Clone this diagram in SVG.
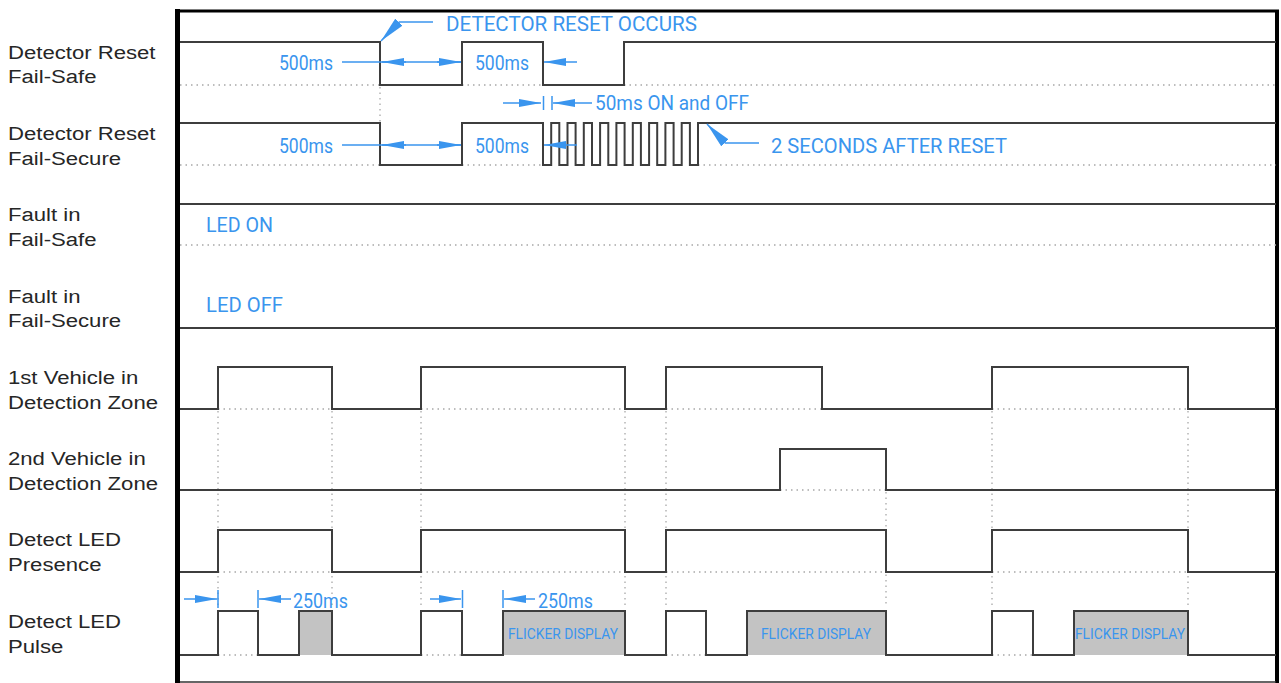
<svg xmlns="http://www.w3.org/2000/svg" width="1281" height="683" viewBox="0 0 1281 683">
<style>
.sig{fill:none;stroke:#3d3d3d;stroke-width:2;stroke-linejoin:miter}
.dot{fill:none;stroke:#a8a8a8;stroke-width:1.3;stroke-dasharray:1.5 4}
.lbl{font-family:"Liberation Sans",Arial,sans-serif;font-size:19px;fill:#262626}
.bt{font-family:Roboto,"Liberation Sans",sans-serif;font-size:20px;fill:#3a95ee}
.fl{font-family:Roboto,"Liberation Sans",sans-serif;font-size:14px;fill:#3a95ee}
.box{fill:#c3c3c3;stroke:none}
.ann{fill:none;stroke:#3a95ee;stroke-width:1.5}
.annh{fill:none;stroke:#3a95ee;stroke-width:1.5;marker-end:url(#ah)}
.lead{fill:none;stroke:#3a95ee;stroke-width:1.5;marker-end:url(#ahL)}
</style>
<defs>
<marker id="ah" viewBox="0 0 22 8" refX="22" refY="4" markerWidth="22" markerHeight="8" markerUnits="userSpaceOnUse" orient="auto">
<path d="M0,0 L22,4 L0,8 Z" fill="#3a95ee"/>
</marker>
<marker id="ahL" viewBox="0 0 26 10" refX="26" refY="5" markerWidth="26" markerHeight="10" markerUnits="userSpaceOnUse" orient="auto">
<path d="M0,0 L26,5 L0,10 Z" fill="#3a95ee"/>
</marker>
</defs>
<rect width="1281" height="683" fill="#fff"/>

<g id="frame">
<line x1="175" y1="11" x2="1279" y2="11" stroke="#000" stroke-width="3"/>
<rect x="175" y="9" width="5" height="674" fill="#000"/>
<line x1="1277" y1="10" x2="1277" y2="683" stroke="#000" stroke-width="4"/>
<line x1="180" y1="682" x2="1276" y2="682" stroke="#333" stroke-width="1.5"/>
</g>

<g id="labels" transform="translate(8,0) scale(1.165,1)">
<text class="lbl" x="0" y="59">Detector Reset</text>
<text class="lbl" x="0" y="83">Fail-Safe</text>
<text class="lbl" x="0" y="140">Detector Reset</text>
<text class="lbl" x="0" y="165">Fail-Secure</text>
<text class="lbl" x="0" y="221">Fault in</text>
<text class="lbl" x="0" y="246">Fail-Safe</text>
<text class="lbl" x="0" y="303">Fault in</text>
<text class="lbl" x="0" y="327">Fail-Secure</text>
<text class="lbl" x="0" y="384">1st Vehicle in</text>
<text class="lbl" x="0" y="409">Detection Zone</text>
<text class="lbl" x="0" y="465">2nd Vehicle in</text>
<text class="lbl" x="0" y="490">Detection Zone</text>
<text class="lbl" x="0" y="546">Detect LED</text>
<text class="lbl" x="0" y="571">Presence</text>
<text class="lbl" x="0" y="628">Detect LED</text>
<text class="lbl" x="0" y="653">Pulse</text>
</g>

<g id="row-reset-failsafe">
<path class="dot" d="M180,85 H380 M462,85 H543 M624,85 H1276 M380,87 V122"/>
<path class="sig" d="M180,42 H380 V85 H462 V42 H543 V85 H624 V42 H1276"/>
</g>

<g id="row-reset-failsecure">
<path class="dot" d="M180,165 H380 M462,165 H543 M698,165 H1276"/>
<path class="sig" d="M180,123 H380 V165 H462 V123 H543 V165 H551.2 V123 H559.3 V165 H567.5 V123 H575.6 V165 H583.8 V123 H592 V165 H600.1 V123 H608.3 V165 H616.4 V123 H624.6 V165 H632.8 V123 H640.9 V165 H649.1 V123 H657.2 V165 H665.4 V123 H673.6 V165 H681.7 V123 H689.9 V165 H698 V123 H1276" stroke-width="1.8"/>
</g>

<g id="row-fault-failsafe">
<path class="dot" d="M180,245 H1276"/>
<path class="sig" d="M180,204 H1276"/>
<text class="bt" x="206" y="232" textLength="67" lengthAdjust="spacingAndGlyphs">LED ON</text>
</g>

<g id="row-fault-failsecure">
<path class="sig" d="M180,328 H1276" stroke="#555"/>
<text class="bt" x="206" y="312" textLength="77" lengthAdjust="spacingAndGlyphs">LED OFF</text>
</g>

<g id="gridlines">
<path class="dot" d="M218,411 V607 M332,411 V607 M421,411 V607 M625,411 V607 M666,411 V607 M992,411 V607 M1188,411 V607 M886,492 V607"/>
</g>

<g id="row-vehicle1">
<path class="dot" d="M218,409 H332 M421,409 H625 M666,409 H822 M992,409 H1188"/>
<path class="sig" d="M180,409 H218 V367 H332 V409 H421 V367 H625 V409 H666 V367 H822 V409 H992 V367 H1188 V409 H1276"/>
</g>

<g id="row-vehicle2">
<path class="dot" d="M780,490 H886"/>
<path class="sig" d="M180,490 H780 V449 H886 V490 H1276"/>
</g>

<g id="row-presence">
<path class="dot" d="M218,572 H332 M421,572 H625 M666,572 H886 M992,572 H1188"/>
<path class="sig" d="M180,572 H218 V530 H332 V572 H421 V530 H625 V572 H666 V530 H886 V572 H992 V530 H1188 V572 H1276"/>
</g>

<g id="row-pulse">
<path class="dot" d="M218,655 H258 M421,655 H462 M666,655 H706 M992,655 H1033"/>
<rect class="box" x="299" y="611" width="33" height="44"/>
<rect class="box" x="503" y="611" width="122" height="44"/>
<rect class="box" x="747" y="611" width="139" height="44"/>
<rect class="box" x="1074" y="611" width="114" height="44"/>
<path class="sig" d="M180,655 H218 V611 H258 V655 H299 V611 H332 V655 H421 V611 H462 V655 H503 V611 H625 V655 H666 V611 H706 V655 H747 V611 H886 V655 H992 V611 H1033 V655 H1074 V611 H1188 V655 H1276"/>
<text class="fl" x="508" y="639" textLength="110" lengthAdjust="spacingAndGlyphs">FLICKER DISPLAY</text>
<text class="fl" x="761" y="639" textLength="110" lengthAdjust="spacingAndGlyphs">FLICKER DISPLAY</text>
<text class="fl" x="1075" y="639" textLength="110" lengthAdjust="spacingAndGlyphs">FLICKER DISPLAY</text>
</g>

<g id="connectors">
<!-- detector reset occurs leader -->
<path class="ann" d="M433,22 H399"/>
<path class="lead" d="M399,22 L381,41"/>
<text class="bt" x="446" y="31" textLength="251" lengthAdjust="spacingAndGlyphs">DETECTOR RESET OCCURS</text>

<!-- row 1 dimensions -->
<text class="bt" x="279" y="70" textLength="54" lengthAdjust="spacingAndGlyphs">500ms</text>
<path class="ann" d="M342,62 H461"/>
<path class="annh" d="M406,62 H382"/>
<path class="annh" d="M437,62 H461"/>
<text class="bt" x="475" y="70" textLength="54" lengthAdjust="spacingAndGlyphs">500ms</text>
<path class="ann" d="M577,62 H566"/>
<path class="annh" d="M566,62 H544"/>

<!-- 50ms on and off -->
<path class="ann" d="M503,103 H518"/>
<path class="annh" d="M518,103 H541"/>
<path class="ann" d="M543.5,96 V110 M552,96 V110"/>
<path class="ann" d="M592,103 H575"/>
<path class="annh" d="M575,103 H553"/>
<text class="bt" x="595" y="110" textLength="154" lengthAdjust="spacingAndGlyphs">50ms ON and OFF</text>

<!-- row 2 dimensions -->
<text class="bt" x="279" y="153" textLength="54" lengthAdjust="spacingAndGlyphs">500ms</text>
<path class="ann" d="M342,145 H461"/>
<path class="annh" d="M406,145 H382"/>
<path class="annh" d="M437,145 H461"/>
<text class="bt" x="475" y="153" textLength="54" lengthAdjust="spacingAndGlyphs">500ms</text>
<path class="ann" d="M577,145 H566"/>
<path class="annh" d="M566,145 H544"/>

<!-- 2 seconds after reset leader -->
<path class="ann" d="M759,143 H725"/>
<path class="lead" d="M725,143 L707,124"/>
<text class="bt" x="771" y="153" textLength="236" lengthAdjust="spacingAndGlyphs">2 SECONDS AFTER RESET</text>

<!-- 250ms dimensions -->
<path class="ann" d="M184,599 H196"/>
<path class="annh" d="M196,599 H217"/>
<path class="ann" d="M218,590 V608 M258,590 V608"/>
<path class="ann" d="M291,599 H280"/>
<path class="annh" d="M280,599 H259"/>
<text class="bt" x="293" y="608" textLength="55" lengthAdjust="spacingAndGlyphs">250ms</text>

<path class="ann" d="M430,599 H440"/>
<path class="annh" d="M440,599 H461"/>
<path class="ann" d="M462.5,590 V608 M503,590 V608"/>
<path class="ann" d="M535,599 H525"/>
<path class="annh" d="M525,599 H504"/>
<text class="bt" x="538" y="608" textLength="55" lengthAdjust="spacingAndGlyphs">250ms</text>
</g>
</svg>
